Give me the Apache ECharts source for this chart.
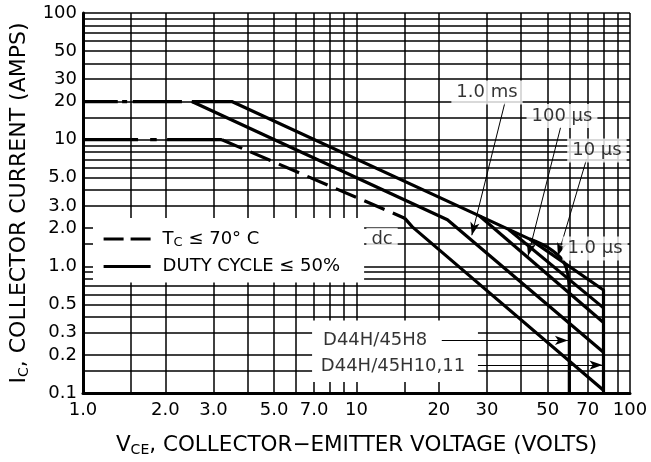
<!DOCTYPE html>
<html><head><meta charset="utf-8">
<script src="https://cdn.jsdelivr.net/npm/echarts@6/dist/echarts.min.js"></script>
<style>html,body{margin:0;padding:0;background:#fff}#c{width:651px;height:462px}</style>
</head><body><div id="c"></div>
<script>
// ---- axes / grid values ----
const xGridValues = [1,1.5,2,3,4,5,6,7,8,9,10,15,20,30,40,50,60,70,80,90,100];
const yGridValues = [0.1,0.15,0.2,0.3,0.4,0.5,0.6,0.7,0.8,0.9,1,1.5,2,3,4,5,6,7,8,9,10,15,20,30,40,50,60,70,80,90,100];
const xTickValues = [1,2,3,5,7,10,20,30,50,70,100];
const xTickLabels = ['1.0','2.0','3.0','5.0','7.0','10','20','30','50','70','100'];
const yTickValues = [0.1,0.2,0.3,0.5,1,2,3,5,10,20,30,50,100];
const yTickLabels = ['0.1','0.2','0.3','0.5','1.0','2.0','3.0','5.0','10','20','30','50','100'];

// ---- curves (VCE volts, IC amps) ----
const flat10Segments = [[[1,10],[1.59,10]], [[1.76,10],[1.86,10]], [[2.03,10],[3.22,10]]];
const flat20Segments = [[[1,20],[1.34,20]], [[1.39,20],[1.45,20]], [[1.52,20],[2.3,20]]];
const dcThermal = [[3.22,10],[15,2.4]];
const dcSecondary = [[15,2.4],[16,2.05],[80,0.105]];
const ms1Curve = [[2.5,20],[21.5,2.33],[80,0.21]];
const outerCurve = [[2.5,20],[3.5,20],[43,1.64],[80,0.65],[80,0.1]];
const us100Curve = [[28.2,2.5],[80,0.36]];
const us10Curve = [[36,1.95],[80,0.47]];
const limit60Curve = [[43,1.64],[52.3,1.32],[58.5,0.97],[60,0.6],[60,0.1]];

// ---- annotations ----
const noteLabels = [
  {text:'1.0 ms', at:[30,23.6]},
  {text:'100 μs', at:[56.4,15.4]},
  {text:'10 μs', at:[75.7,8.2]},
  {text:'1.0 μs', at:[74.5,1.38]},
  {text:'dc', at:[12.4,1.62]},
  {text:'D44H/45H8', at:[11.7,0.26]},
  {text:'D44H/45H10,11', at:[13.6,0.163]}
];
const arrowLines = [
  [[34.9,19.7],[26.4,1.76]],
  [[55.8,12.6],[42.4,1.21]],
  [[69.4,7.05],[54.5,1.21]],
  [[20.5,0.26],[59.3,0.26]],
  [[27.8,0.166],[79.3,0.166]]
];
const partBox = [[6.88,0.122],[27.8,0.373]];

const FONT = 'DejaVu Sans';
const series = [];
series.push({type:'line', data:[], silent:true, z:1,
  markArea:{silent:true, itemStyle:{color:'#fff'}, data:[[{coord:partBox[0]},{coord:partBox[1]}]]}});
function addLine(pts, dashed, name){
  series.push({type:'line', name: name, data: pts, symbol:'none', showSymbol:false, z:3,
    lineStyle:{color:'#000', width:3.2, type: dashed ? [22,9] : 'solid', cap:'butt', join:'round'},
    itemStyle:{color:'#000'}, animation:false});
}
addLine(dcThermal, true, 'TC');
addLine(outerCurve, false, 'DUTY');
flat10Segments.forEach(s=>addLine(s,false));
flat20Segments.forEach(s=>addLine(s,false));
addLine(dcSecondary,false);
addLine(ms1Curve,false);
addLine(us100Curve,false);
addLine(us10Curve,false);
series.push({type:'line', data: limit60Curve, symbol:'none', smooth:0.4, z:3,
  lineStyle:{color:'#000', width:3.2}, animation:false});
series.push({type:'line', data:[], z:4,
  markLine:{silent:true, animation:false, symbol:['none','arrow'], symbolSize:[7,13],
    lineStyle:{color:'#000', width:1, type:'solid'}, label:{show:false},
    data: arrowLines.map(a=>[{coord:a[0]},{coord:a[1]}])}});
series.push({type:'scatter', z:5, symbolSize:0, animation:false,
  data: noteLabels.map(n=>({value:n.at, name:n.text})),
  label:{show:true, position:'inside', formatter: p=>p.name, fontFamily:FONT, fontSize:18, color:'#000',
    backgroundColor:'#fff', padding:[3,5,3,5]}});

const chart = echarts.init(document.getElementById('c'), null, {renderer:'canvas'});
chart.setOption({
  animation:false,
  backgroundColor:'#fff',
  grid:{left:83, right:21, top:13, bottom:66},
  legend:{left:93, top:218, orient:'vertical', itemWidth:47, itemHeight:2, itemGap:8,
    padding:[12,24,7,9], backgroundColor:'#fff',
    itemStyle:{opacity:0, borderWidth:0},
    data:[{name:'TC', lineStyle:{type:[20,7], width:3.2, color:'#000'}}, {name:'DUTY', lineStyle:{width:3.2, color:'#000'}}],
    formatter: n => n==='TC' ? '{a|T}{s|C}{a| ≤ 70° C}' : '{a|DUTY CYCLE ≤ 50%}',
    textStyle:{fontFamily:FONT, fontSize:18, color:'#000', padding:[0,0,0,7],
      rich:{a:{fontFamily:FONT, fontSize:18, lineHeight:22, color:'#000'}, s:{fontFamily:FONT, fontSize:13, color:'#000', padding:[8,0,0,0]}}}},
  xAxis:{type:'log', logBase:10, min:1, max:100,
    name:'{a|V}{s|CE}{a|, COLLECTOR−EMITTER VOLTAGE (VOLTS)}', nameLocation:'middle', nameGap:40,
    nameTextStyle:{fontFamily:FONT, fontSize:21.5, color:'#000',
      rich:{a:{fontFamily:FONT, fontSize:21.5, color:'#000'}, s:{fontFamily:FONT, fontSize:14, color:'#000', padding:[10,0,0,0]}}},
    axisLine:{show:true, onZero:false, lineStyle:{color:'#000', width:3}},
    axisTick:{show:false, customValues:xGridValues},
    minorTick:{show:false}, minorSplitLine:{show:false},
    splitLine:{show:true, lineStyle:{color:'#000', width:1.5}},
    axisLabel:{customValues:xTickValues, margin:8, fontFamily:FONT, fontSize:18, color:'#000',
      formatter: v => { const i = xTickValues.findIndex(t=>Math.abs(t-v)/t<1e-6); return i>=0 ? xTickLabels[i] : ''; }}},
  yAxis:{type:'log', logBase:10, min:0.1, max:100,
    name:'{a|I}{s|C}{a|, COLLECTOR CURRENT (AMPS)}', nameLocation:'middle', nameGap:52, nameRotate:90,
    nameTextStyle:{fontFamily:FONT, fontSize:22, color:'#000',
      rich:{a:{fontFamily:FONT, fontSize:22, color:'#000'}, s:{fontFamily:FONT, fontSize:14, color:'#000', padding:[10,0,0,0]}}},
    axisLine:{show:true, onZero:false, lineStyle:{color:'#000', width:3}},
    axisTick:{show:false, customValues:yGridValues},
    splitLine:{show:true, lineStyle:{color:'#000', width:1.5}},
    axisLabel:{customValues:yTickValues, margin:6, fontFamily:FONT, fontSize:18, color:'#000',
      formatter: v => { const i = yTickValues.findIndex(t=>Math.abs(t-v)/t<1e-6); return i>=0 ? yTickLabels[i] : ''; }}},
  series: series
});
</script></body></html>
